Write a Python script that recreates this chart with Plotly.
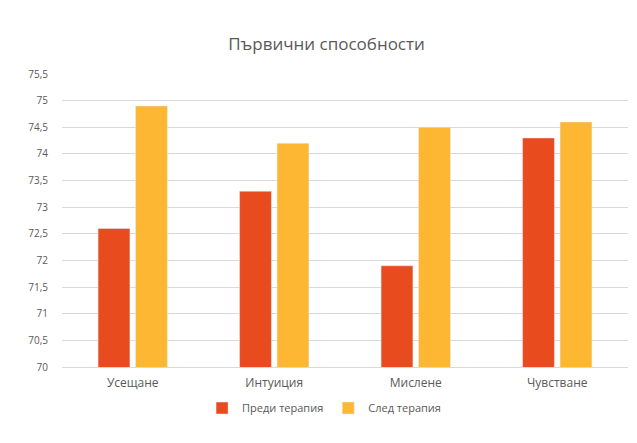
import plotly.graph_objects as go

categories = ["Усещане", "Интуиция", "Мислене", "Чувстване"]
before = [72.6, 73.3, 71.9, 74.3]
after = [74.9, 74.2, 74.5, 74.6]
series_names = ["Преди терапия", "След терапия"]
tick_vals = [70, 70.5, 71, 71.5, 72, 72.5, 73, 73.5, 74, 74.5, 75, 75.5]
tick_text = ["70", "70,5", "71", "71,5", "72", "72,5", "73", "73,5", "74", "74,5", "75", "75,5"]

font = "Open Sans, Liberation Sans, sans-serif"

fig = go.Figure()
fig.add_trace(go.Bar(x=categories, y=before, name=series_names[0], marker_color="#E84B1E"))
fig.add_trace(go.Bar(x=categories, y=after, name=series_names[1], marker_color="#FDB733"))

fig.update_layout(
    width=637, height=443,
    paper_bgcolor="white", plot_bgcolor="white",
    margin=dict(l=54, r=17, t=66, b=84, autoexpand=False),
    title=dict(text="Първични способности", x=0.5, xanchor="center", y=0.918, yanchor="middle",
               font=dict(family=font, size=17, color="#595959")),
    barmode="group", bargap=0.47, bargroupgap=0.15,
    font=dict(family=font, size=11, color="#595959"),
    legend=dict(orientation="h", x=0.463, xanchor="center", y=-0.14, yanchor="middle",
                font=dict(size=11, color="#595959"), itemwidth=30),
    xaxis=dict(showline=True, linecolor="#d9d9d9", ticks="", tickfont=dict(size=12),
               ticklabelstandoff=5, tickangle=0),
    yaxis=dict(range=[70, 75.5], tickvals=tick_vals, ticktext=tick_text,
               showgrid=True, gridcolor="#d9d9d9", zeroline=False, tickfont=dict(size=10),
               ticklen=11, tickcolor="white", ticks="outside"),
)

fig.write_html("out.html")
